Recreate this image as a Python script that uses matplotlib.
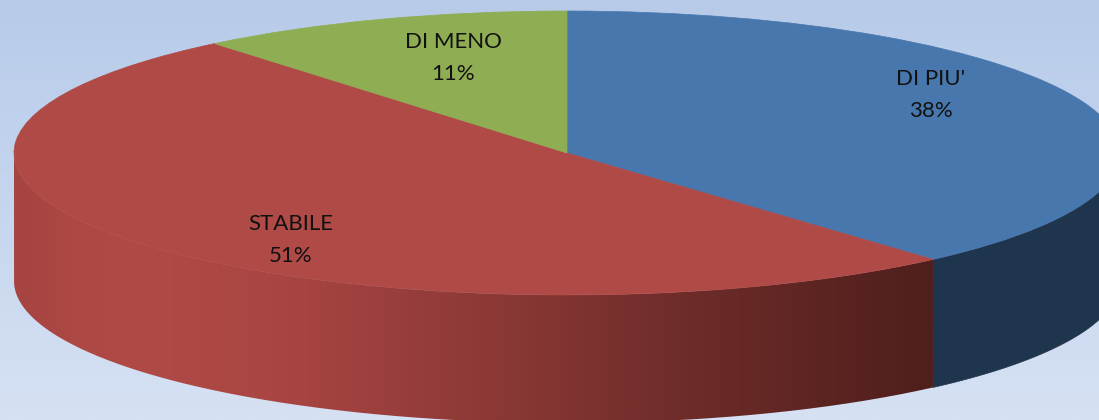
import numpy as np
import matplotlib
matplotlib.use("Agg")
import matplotlib.pyplot as plt
from matplotlib.colors import LinearSegmentedColormap
from matplotlib.patches import PathPatch
from matplotlib.path import Path

categories = ["DI PIU'", "STABILE", "DI MENO"]
shares = [38.49, 50.51, 11.0]
top_colors = ["#4877ae", "#b04a46", "#8fad53"]

W, H = 1099, 420
CX, CY, RX, RY, DEPTH = 567, 153, 553, 142, 128

plt.rcParams['font.family'] = ['Lato', 'DejaVu Sans']
fig = plt.figure(figsize=(W / 100, H / 100), dpi=100)
ax = fig.add_axes([0, 0, 1, 1])


def limits():
    ax.set_xlim(-CX / RX, (W - CX) / RX)
    ax.set_ylim(-(H - CY) / RY, CY / RY)
    ax.set_aspect('auto')


# background gradient
bg = LinearSegmentedColormap.from_list("bg", ["#b7cbe9", "#c6d6ef", "#d6e1f3"])
ax.imshow(np.linspace(0, 1, 256)[:, None], cmap=bg, aspect='auto',
          extent=(-CX / RX, (W - CX) / RX, -(H - CY) / RY, CY / RY),
          origin='upper', zorder=0)

# side walls of the front half, from the same shares as the top
d = DEPTH / RY
edges = np.concatenate([[0], np.cumsum(shares)]) / sum(shares) * 360


def wall(a0, a1):
    phi = np.radians(np.linspace(a0, a1, 300))
    x, y = np.sin(phi), np.cos(phi)
    return Path(np.column_stack([np.r_[x, x[::-1], x[0]],
                                 np.r_[y, y[::-1] - d, y[0]]]), closed=False)


ax.add_patch(PathPatch(wall(90, edges[1]), fc="#1f344d", ec="#1f344d", lw=0.5, zorder=1))

red_side = LinearSegmentedColormap.from_list("red_side", [
    (0.00, "#a54441"), (0.06, "#ad4844"), (0.14, "#b04a46"), (0.30, "#a84542"),
    (0.50, "#8e3a37"), (0.75, "#6c2b28"), (1.00, "#4e1f1c")])
red_patch = PathPatch(wall(edges[1], 270), fc='none', ec='none', zorder=1)
ax.add_patch(red_patch)
im = ax.imshow(np.linspace(0, 1, 512)[None, :], cmap=red_side, aspect='auto',
               extent=(-1, np.sin(np.radians(edges[1])), -3, 2), zorder=1)
im.set_clip_path(red_patch)

# top surface
wedges, _ = ax.pie(shares, startangle=90, counterclock=False, colors=top_colors,
                   radius=1, wedgeprops=dict(linewidth=0.5, zorder=2))
for wd, c in zip(wedges, top_colors):
    wd.set_edgecolor(c)
    wd.set_zorder(2)

limits()
ax.set_axis_off()

# data labels, placed in pixel positions of the reference
label_px = [(931, 95), (291, 240), (453, 58)]
for name, share, (px, py) in zip(categories, shares, label_px):
    ax.text((px - CX) / RX, (CY - py) / RY, f"{name}\n{share:.0f}%", ha='center', va='center',
            fontsize=16, color="#111111", linespacing=1.8, zorder=3)

fig.savefig("out.png", dpi=100)
